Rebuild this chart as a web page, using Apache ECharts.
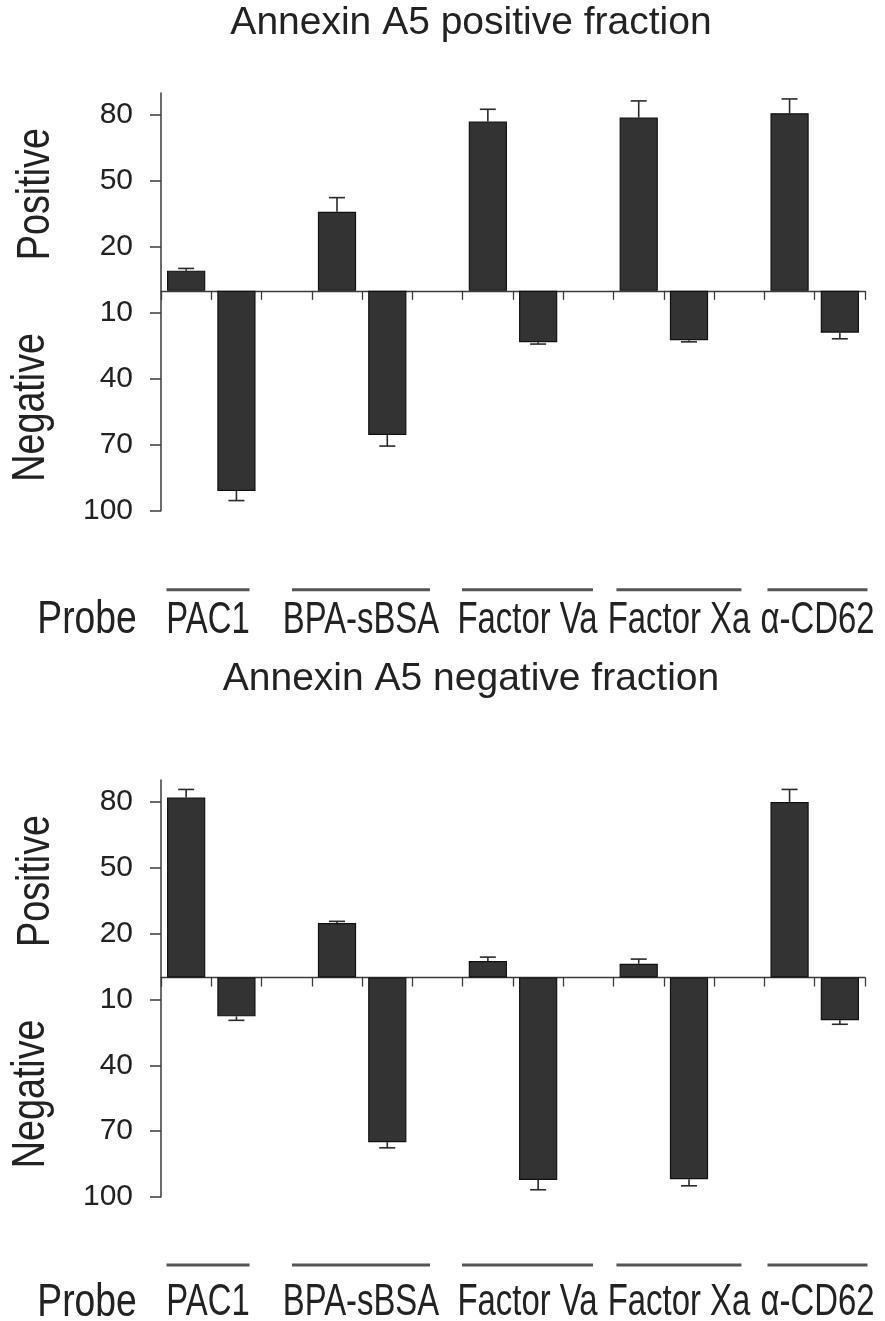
<!DOCTYPE html>
<html>
<head>
<meta charset="utf-8">
<script src="https://cdn.jsdelivr.net/npm/echarts@6/dist/echarts.min.js"></script>
<style>
html,body{margin:0;padding:0;background:#ffffff;}
#chart{width:885px;height:1321px;}
</style>
</head>
<body>
<div id="chart"></div>
<script>
// ---------------- DATA ----------------
const probes = ['PAC1', 'BPA-sBSA', 'Factor Va', 'Factor Xa', 'α-CD62'];
const yTickValues = [-100, -70, -40, -10, 20, 50, 80];
const panelTitles = ['Annexin A5 positive fraction', 'Annexin A5 negative fraction'];

// Panel 1: Annexin A5 positive fraction
const p1Positive    = [9.2, 36.0, 77.0, 78.8, 80.8];
const p1PositiveErr = [1.0, 6.4, 5.6, 7.6, 6.5];
const p1Negative    = [91.0, 65.6, 23.4, 22.5, 19.0];
const p1NegativeErr = [4.4, 5.0, 0.8, 0.7, 2.8];

// Panel 2: Annexin A5 negative fraction
const p2Positive    = [82.0, 24.8, 7.5, 6.3, 80.0];
const p2PositiveErr = [3.7, 0.8, 1.8, 2.1, 5.7];
const p2Negative    = [17.7, 75.0, 92.2, 91.9, 19.5];
const p2NegativeErr = [1.8, 2.6, 4.5, 3.0, 1.8];

// ---------------- LAYOUT / STYLE ----------------
const SANS = '"Liberation Sans", Arial, Helvetica, sans-serif';
const INK = '#222222';
const AXIS = '#3a3a3a';
const panels = [
  { top: 93,  height: 417.7, titleTop: 4,   overlineGap: 79, probeTextGap: 110, posY: 194, negY: 408 },
  { top: 780, height: 417,   titleTop: 660, overlineGap: 68, probeTextGap: 106, posY: 881, negY: 1094 }
];
const probeLabelPos = [0.935, 3.977, 7.288, 10.30, 13.055];   // label centres on the slot scale
const overlineWidths = [83, 138, 131, 125, 100];
const probeFont = { size: 45, scaleX: 0.73 };
const bigFont = { size: 46, scaleX: 0.82 };

// ---------------- BUILD ----------------
const slots = [];
probes.forEach((p, i) => {
  slots.push(p + ' +', p + ' −');
  if (i < probes.length - 1) slots.push('gap' + i);
});

function buildBars(pos, neg) {
  const out = [];
  probes.forEach((p, i) => {
    out.push(pos[i], -neg[i]);
    if (i < probes.length - 1) out.push('-');
  });
  return out;
}
function buildErrs(pos, posErr, neg, negErr) {
  const out = [];
  probes.forEach((p, i) => {
    out.push([i * 3, pos[i], posErr[i]]);
    out.push([i * 3 + 1, -neg[i], negErr[i]]);
  });
  return out;
}

const panelData = [
  { bars: buildBars(p1Positive, p1Negative), errs: buildErrs(p1Positive, p1PositiveErr, p1Negative, p1NegativeErr) },
  { bars: buildBars(p2Positive, p2Negative), errs: buildErrs(p2Positive, p2PositiveErr, p2Negative, p2NegativeErr) }
];

function renderErr(params, api) {
  const x = api.value(0), v = api.value(1), e = api.value(2);
  const end = v + Math.sign(v) * e;
  const a = api.coord([x, v]);
  const b = api.coord([x, end]);
  const hw = 8;
  const st = { stroke: '#2a2a2a', lineWidth: 1.6 };
  return {
    type: 'group',
    children: [
      { type: 'line', shape: { x1: a[0], y1: a[1], x2: b[0], y2: b[1] }, style: st },
      { type: 'line', shape: { x1: b[0] - hw, y1: b[1], x2: b[0] + hw, y2: b[1] }, style: st }
    ]
  };
}

const option = {
  backgroundColor: '#ffffff',
  animation: false,
  title: panels.map((p, g) => ({
    text: panelTitles[g],
    left: 471, top: p.titleTop, textAlign: 'center', padding: 0,
    textStyle: { fontFamily: SANS, fontSize: 39, fontWeight: 'normal', color: INK }
  })),
  grid: panels.map(p => ({ left: 161, right: 20, top: p.top, height: p.height, containLabel: false, outerBoundsMode: 'none' })),
  xAxis: [],
  yAxis: [],
  series: []
};

panels.forEach((p, g) => {
  option.xAxis.push({
    type: 'category', gridIndex: g, data: slots, position: 'bottom', boundaryGap: true,
    axisLine: { show: true, onZero: true, lineStyle: { color: AXIS, width: 1.3 } },
    axisTick: { show: true, interval: 0, length: 9, lineStyle: { color: AXIS, width: 1.3 } },
    axisLabel: { show: false },
    splitLine: { show: false }
  });
  // hidden slot-scale axis used to place the probe labels
  option.xAxis.push({
    type: 'value', gridIndex: g, min: 0, max: slots.length, position: 'bottom', show: false,
    axisLine: { onZero: false }
  });
  option.yAxis.push({
    type: 'value', gridIndex: g, min: -100, max: 90,
    axisLine: { show: true, lineStyle: { color: AXIS, width: 1.5 } },
    axisTick: { show: true, customValues: yTickValues, length: 11, lineStyle: { color: AXIS, width: 1.5 } },
    axisLabel: {
      show: true, customValues: yTickValues, margin: 28,
      formatter: (v) => String(Math.abs(v)),
      fontFamily: SANS, fontSize: 30, color: INK
    },
    splitLine: { show: false }
  });
  option.series.push({
    type: 'bar', xAxisIndex: 2 * g, yAxisIndex: g, data: panelData[g].bars,
    barWidth: '76%',
    itemStyle: { color: '#333333', borderColor: '#111111', borderWidth: 1.2 },
    z: 2
  });
  option.series.push({
    type: 'custom', xAxisIndex: 2 * g, yAxisIndex: g, data: panelData[g].errs,
    renderItem: renderErr, z: 3, clip: false
  });
});

const chart = echarts.init(document.getElementById('chart'), null, { renderer: 'canvas' });
chart.setOption(option);

// ---- texts & overlines placed through the axes ----
const graphics = [];
panels.forEach((p, g) => {
  const yBottom = chart.convertToPixel({ yAxisIndex: g }, -100);
  const yPos = chart.convertToPixel({ yAxisIndex: g }, 44);
  const yNeg = chart.convertToPixel({ yAxisIndex: g }, -53);
  graphics.push(
    { type: 'text', x: 36, y: yPos, rotation: Math.PI / 2, scaleX: bigFont.scaleX,
      style: { text: 'Positive', font: bigFont.size + 'px ' + SANS, fill: INK, textAlign: 'center', textVerticalAlign: 'middle' } },
    { type: 'text', x: 31, y: yNeg, rotation: Math.PI / 2, scaleX: bigFont.scaleX,
      style: { text: 'Negative', font: bigFont.size + 'px ' + SANS, fill: INK, textAlign: 'center', textVerticalAlign: 'middle' } },
    { type: 'text', x: 87, y: yBottom + p.probeTextGap, scaleX: 0.81,
      style: { text: 'Probe', font: bigFont.size + 'px ' + SANS, fill: INK, textAlign: 'center', textVerticalAlign: 'middle' } }
  );
  probes.forEach((name, i) => {
    const cx = chart.convertToPixel({ xAxisIndex: 2 * g + 1 }, probeLabelPos[i]);
    const w = overlineWidths[i];
    const ly = yBottom + p.overlineGap;
    graphics.push({ type: 'line', shape: { x1: cx - w / 2, y1: ly, x2: cx + w / 2, y2: ly },
      style: { stroke: '#555555', lineWidth: 3 } });
    graphics.push({ type: 'text', x: cx, y: yBottom + p.probeTextGap, scaleX: probeFont.scaleX,
      style: { text: name, font: probeFont.size + 'px ' + SANS, fill: INK, textAlign: 'center', textVerticalAlign: 'middle' } });
  });
});
chart.setOption({ graphic: graphics });
</script>
</body>
</html>
